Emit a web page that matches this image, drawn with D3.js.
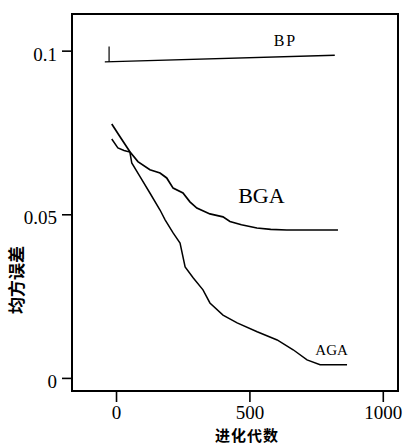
<!DOCTYPE html>
<html>
<head>
<meta charset="utf-8">
<script src="https://cdn.jsdelivr.net/npm/d3@7"></script>
<style>
  body { margin: 0; background: #fff; }
</style>
</head>
<body>
<div id="chart"></div>
<script>
// 进化代数 (generations) vs 均方误差 (mean squared error)
var xTicks = [0, 500, 1000];
var yTicks = [0, 0.05, 0.1];
var yTickLabels = ['0', '0.05', '0.1'];

var bpGen = [-42, 820];
var bpErr = [0.0966, 0.0986];
var bpMarkGen = -26;
var bpMarkErr = [0.0966, 0.1013];

var bgaGen = [-16, 15, 52, 82, 127, 165, 190, 214, 251, 277, 303, 352, 401, 427, 470, 528, 580, 640, 720, 832];
var bgaErr = [0.0776, 0.0737, 0.0691, 0.0661, 0.0636, 0.0626, 0.0611, 0.0580, 0.0565, 0.0538, 0.0519, 0.0501, 0.0492, 0.0478, 0.0468, 0.0458, 0.0454, 0.0452, 0.0452, 0.0452];

var agaGen = [-16, 7, 30, 52, 59, 90, 127, 165, 184, 214, 240, 259, 289, 326, 352, 401, 454, 529, 604, 664, 716, 765, 866];
var agaErr = [0.0730, 0.0703, 0.0695, 0.0690, 0.0657, 0.0615, 0.0565, 0.0513, 0.0483, 0.0443, 0.0412, 0.0339, 0.0306, 0.0269, 0.0229, 0.0192, 0.0168, 0.0141, 0.0116, 0.0086, 0.0055, 0.0040, 0.0040];

var width = 406, height = 447;
var plot = { left: 72, right: 398, top: 14, bottom: 391 };
var serif = '"Liberation Serif", "Times New Roman", serif';
var cjk = '"Noto Sans CJK SC", sans-serif';

var svg = d3.select('#chart')
  .append('svg')
  .attr('width', width)
  .attr('height', height);

var x = d3.scaleLinear()
  .domain([-165, 1057])
  .range([plot.left, plot.right]);

var y = d3.scaleLinear()
  .domain([-0.0040, 0.1112])
  .range([plot.bottom, plot.top]);

// frame
svg.append('rect')
  .attr('x', plot.left)
  .attr('y', plot.top)
  .attr('width', plot.right - plot.left)
  .attr('height', plot.bottom - plot.top)
  .attr('fill', 'none')
  .attr('stroke', '#000')
  .attr('stroke-width', 2);

var yAxis = svg.append('g')
  .attr('transform', 'translate(' + plot.left + ',0)')
  .call(d3.axisLeft(y)
    .tickValues(yTicks)
    .tickSize(10)
    .tickPadding(5)
    .tickFormat(function(d, i) { return yTickLabels[i]; }));
yAxis.select('.domain').remove();

var xAxis = svg.append('g')
  .attr('transform', 'translate(0,' + plot.bottom + ')')
  .call(d3.axisBottom(x)
    .tickValues(xTicks)
    .tickSize(11)
    .tickPadding(4)
    .tickFormat(d3.format('d')));
xAxis.select('.domain').remove();

[yAxis, xAxis].forEach(function(ax) {
  ax.selectAll('line').attr('stroke', '#000').attr('stroke-width', 1.6);
  ax.selectAll('text')
    .attr('fill', '#000')
    .style('font-family', serif)
    .style('font-size', '19px');
});
yAxis.selectAll('text').attr('dy', '0.5em');

// axis titles
svg.append('text')
  .attr('x', 247)
  .attr('y', 441)
  .attr('text-anchor', 'middle')
  .style('font-family', cjk)
  .style('font-weight', 'bold')
  .style('font-size', '15px')
  .style('letter-spacing', '1px')
  .text('进化代数');

svg.append('text')
  .attr('transform', 'translate(23,280) rotate(-90)')
  .attr('text-anchor', 'middle')
  .style('font-family', cjk)
  .style('font-weight', 'bold')
  .style('font-size', '17px')
  .text('均方误差');

var line = d3.line()
  .x(function(d) { return x(d[0]); })
  .y(function(d) { return y(d[1]); });

function series(gen, err) {
  return gen.map(function(g, i) { return [g, err[i]]; });
}

svg.append('path')
  .datum(series(bpGen, bpErr))
  .attr('d', line)
  .attr('fill', 'none')
  .attr('stroke', '#000')
  .attr('stroke-width', 1.3);

svg.append('path')
  .datum([[bpMarkGen, bpMarkErr[0]], [bpMarkGen, bpMarkErr[1]]])
  .attr('d', line)
  .attr('fill', 'none')
  .attr('stroke', '#000')
  .attr('stroke-width', 1.2);

svg.append('path')
  .datum(series(bgaGen, bgaErr))
  .attr('d', line)
  .attr('fill', 'none')
  .attr('stroke', '#000')
  .attr('stroke-width', 1.7);

svg.append('path')
  .datum(series(agaGen, agaErr))
  .attr('d', line)
  .attr('fill', 'none')
  .attr('stroke', '#000')
  .attr('stroke-width', 1.5);

// series labels
svg.append('text')
  .attr('x', x(635)).attr('y', y(0.1015))
  .attr('text-anchor', 'middle')
  .style('font-family', serif)
  .style('font-size', '16px')
  .style('letter-spacing', '2px')
  .text('BP');

svg.append('text')
  .attr('x', x(545)).attr('y', y(0.0535))
  .attr('text-anchor', 'middle')
  .style('font-family', serif)
  .style('font-size', '22px')
  .text('BGA');

svg.append('text')
  .attr('x', x(808)).attr('y', y(0.0070))
  .attr('text-anchor', 'middle')
  .style('font-family', serif)
  .style('font-size', '15px')
  .text('AGA');
</script>
</body>
</html>
